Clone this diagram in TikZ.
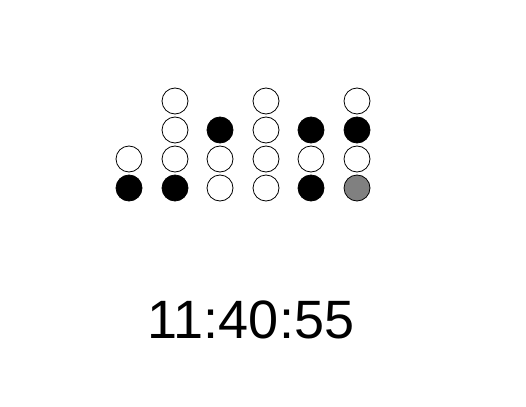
\documentclass[tikz,border=0pt]{standalone}
\usepackage{fontspec}
\setmainfont{Liberation Sans}
\definecolor{bitgray}{RGB}{128,128,128}
\usetikzlibrary{positioning}

\begin{document}
\begin{tikzpicture}[x=1pt, y=-1pt,
		bit/.style={draw=black, line width=0.8pt, circle, minimum size=26pt,
			inner sep=0pt, fill=white},
		on/.style={bit, fill=black},
		half/.style={bit, fill=bitgray},
		clock/.style={font=\fontsize{54}{60}\selectfont, anchor=base, inner sep=0pt}
	]
		\useasboundingbox (0,0) rectangle (526,406);

		% hours
		\node[on]  (ha0) at (129,188) {};
		\node[bit] (ha1) at (129,159) {};
		\node[on]  (hb0) at (175,188) {};
		\node[bit] (hb1) at (175,159) {};
		\node[bit] (hb2) at (175,130) {};
		\node[bit] (hb3) at (175,101) {};

		% minutes
		\node[bit] (ma0) at (220,188) {};
		\node[bit] (ma1) at (220,159) {};
		\node[on]  (ma2) at (220,130) {};
		\node[bit] (mb0) at (266,188) {};
		\node[bit] (mb1) at (266,159) {};
		\node[bit] (mb2) at (266,130) {};
		\node[bit] (mb3) at (266,101) {};

		% seconds
		\node[on]   (sa0) at (311,188) {};
		\node[bit]  (sa1) at (311,159) {};
		\node[on]   (sa2) at (311,130) {};
		\node[half] (sb0) at (357,188) {};
		\node[bit]  (sb1) at (357,159) {};
		\node[on]   (sb2) at (357,130) {};
		\node[bit]  (sb3) at (357,101) {};

		\node[clock] (time) at (251,338) {11:40:55};
	\end{tikzpicture}
\end{document}
